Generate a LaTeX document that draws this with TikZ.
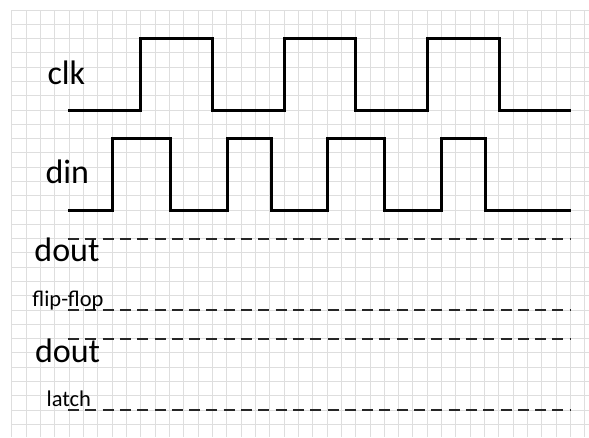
\documentclass[tikz,border=0pt]{standalone}
\usepackage{fontspec}
\setmainfont{Carlito}
\begin{document}
\begin{tikzpicture}[x=1pt,y=-1pt,
  gridline/.style={draw=black!13,line width=0.9pt},
  wave/.style={draw=black,line width=3pt,line join=miter},
  dline/.style={draw=black!85,line width=1.8pt,dash pattern=on 11pt off 6.3pt},
  biglabel/.style={anchor=base west,inner sep=0pt,font=\fontsize{34}{34}\selectfont},
  smalllabel/.style={anchor=base west,inner sep=0pt,font=\fontsize{22.5}{22.5}\selectfont}]
\useasboundingbox[fill=white] (0,0) rectangle (589,437);
% grid
\foreach \k in {0,...,40} \draw[gridline] ({11.7+14.33*\k},10) -- ({11.7+14.33*\k},437);
\foreach \k in {0,...,29} \draw[gridline] (11.7,{10+14.286*\k}) -- (589,{10+14.286*\k});
% clk
\draw[wave] (68,110) -- (140.7,110) -- (140.7,38.6) -- (212.3,38.6) -- (212.3,110)
  -- (284,110) -- (284,38.6) -- (355.7,38.6) -- (355.7,110)
  -- (427.3,110) -- (427.3,38.6) -- (499,38.6) -- (499,110) -- (571,110);
% din
\draw[wave] (68,210) -- (112,210) -- (112,138.6) -- (170,138.6) -- (170,210)
  -- (227,210) -- (227,138.6) -- (271,138.6) -- (271,210)
  -- (327.3,210) -- (327.3,138.6) -- (384.3,138.6) -- (384.3,210)
  -- (441.7,210) -- (441.7,138.6) -- (485.3,138.6) -- (485.3,210) -- (571,210);
% dashed lines
\coordinate (d1a) at (68,238.6); \coordinate (d1b) at (571,238.6);
\coordinate (d2a) at (68,310);   \coordinate (d2b) at (571,310);
\coordinate (d3a) at (68,338.6); \coordinate (d3b) at (571,338.6);
\coordinate (d4a) at (68,410);   \coordinate (d4b) at (571,410);
\draw[dline] (d1a) -- (d1b);
\draw[dline] (d2a) -- (d2b);
\draw[dline] (d3a) -- (d3b);
\draw[dline] (d4a) -- (d4b);
% labels
\node[biglabel] (clk) at (47.3,84.3) {clk};
\node[biglabel] (din) at (45.3,183.3) {din};
\node[biglabel] (doutff) at (34.2,261.7) {dout};
\node[smalllabel] (ff) at (32.2,306.7) {flip-flop};
\node[biglabel] (doutl) at (34.9,362.3) {dout};
\node[smalllabel] (latch) at (46.4,406.7) {latch};
\end{tikzpicture}
\end{document}
